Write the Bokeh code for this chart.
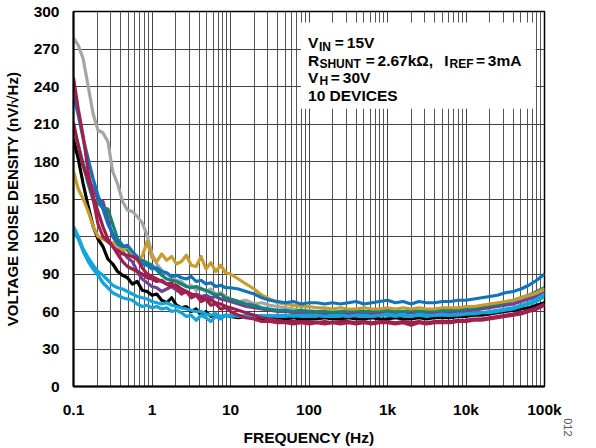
import math
from bokeh.plotting import figure
from bokeh.models import Range1d, FixedTicker, CustomJSTickFormatter, BoxAnnotation, Label, Title
from bokeh.embed import file_html
from bokeh.resources import INLINE

# ---------------- data ----------------
freq = [0.1, 0.115, 0.133, 0.154, 0.178, 0.205, 0.237, 0.274, 0.316, 0.365, 0.422, 0.487,
        0.562, 0.649, 0.75, 0.866, 1.0, 1.15, 1.33, 1.54, 1.78, 2.05, 2.37, 2.74, 3.16, 3.65,
        4.22, 4.87, 5.62, 6.49, 7.5, 8.66,
        10, 12.6, 15.8, 20, 25.1, 31.6, 39.8, 50.1, 63.1, 79.4,
        100, 126, 158, 200, 251, 316, 398, 501, 631, 794,
        1000, 1260, 1580, 2000, 2510, 3160, 3980, 5010, 6310, 7940,
        10000, 12600, 15800, 20000, 25100, 31600, 39800, 50100, 63100, 79400, 100000]

gray = [279, 273, 262, 240, 218, 205, 203, 196, 172, 162, 148, 141, 140, 136, 131, 121,
        106, 98, 93, 90, 87, 85, 84, 80, 81, 77, 79, 76, 78, 74, 75, 72,
        70, 68, 69, 66, 67, 65, 64, 63, 62, 61,
        61, 60, 61, 60, 60, 61, 60, 59, 60, 61,
        60, 61, 60, 60, 61, 60, 60, 61, 61, 61,
        62, 62, 63, 64, 65, 66, 67, 69, 71, 73, 76]
blue = [233, 217, 198, 182, 166, 153, 142, 130, 122, 114, 112, 113, 108, 104, 98, 97,
        94, 95, 92, 91, 88, 89, 87, 86, 88, 84, 85, 82, 83, 80, 81, 79,
        79, 78, 76, 74, 71, 69, 68, 67, 68, 66,
        67, 67, 66, 67, 66, 67, 68, 66, 67, 68,
        69, 67, 68, 66, 68, 67, 67, 68, 68, 69,
        69, 70, 71, 72, 73, 75, 76, 78, 81, 85, 90]
gold = [172, 158, 150, 140, 128, 120, 118, 116, 115, 113, 109, 112, 106, 101, 104, 116,
        103, 100, 106, 101, 104, 98, 100, 105, 97, 96, 104, 94, 99, 92, 97, 91,
        90, 86, 82, 78, 73, 70, 67, 66, 65, 64,
        64, 63, 63, 62, 63, 62, 62, 63, 62, 62,
        63, 62, 63, 62, 63, 62, 62, 63, 63, 63,
        64, 64, 65, 66, 67, 68, 69, 71, 73, 75, 78]
teal = [207, 193, 178, 162, 149, 147, 143, 142, 130, 118, 113, 109, 105, 103, 101, 99,
        97, 93, 89, 86, 85, 84, 82, 80, 79, 80, 78, 77, 75, 73, 74, 71,
        70, 68, 66, 65, 63, 62, 61, 61, 60, 61,
        60, 60, 60, 59, 60, 60, 61, 60, 60, 61,
        61, 60, 60, 61, 60, 60, 61, 61, 61, 62,
        62, 63, 64, 65, 66, 67, 69, 71, 73, 76, 79]
purple = [192, 185, 177, 167, 158, 150, 148, 134, 120, 114, 108, 103, 100, 92, 86, 83,
          80, 79, 76, 78, 80, 77, 75, 76, 73, 74, 72, 73, 71, 72, 70, 69,
          68, 66, 64, 63, 62, 61, 60, 60, 59, 59,
          59, 59, 58, 59, 59, 58, 59, 59, 58, 59,
          59, 59, 58, 59, 59, 58, 59, 59, 59, 60,
          60, 61, 62, 63, 64, 65, 66, 68, 70, 72, 75]
black = [198, 182, 162, 144, 128, 118, 112, 102, 98, 92, 89, 87, 82, 84, 77, 76,
         73, 74, 69, 67, 71, 65, 63, 64, 60, 62, 57, 60, 56, 58, 55, 57,
         56, 55, 56, 55, 54, 55, 54, 54, 55, 54,
         54, 54, 55, 54, 54, 55, 54, 54, 55, 54,
         54, 55, 54, 54, 55, 54, 55, 55, 55, 56,
         56, 57, 57, 58, 59, 60, 61, 62, 63, 65, 67]
maroon1 = [247, 222, 200, 172, 150, 130, 120, 116, 112, 109, 106, 105, 104, 102, 95, 90,
           88, 86, 84, 82, 83, 79, 74, 76, 71, 73, 68, 70, 65, 66, 62, 63,
           60, 57, 55, 54, 52, 52, 51, 51, 50, 51,
           50, 51, 50, 51, 50, 51, 50, 51, 50, 51,
           51, 50, 51, 49, 51, 50, 51, 51, 51, 52,
           52, 53, 53, 54, 55, 56, 57, 58, 60, 62, 65]
maroon2 = [211, 193, 176, 165, 152, 140, 128, 118, 112, 106, 100, 96, 94, 92, 90, 87,
           86, 84, 85, 82, 80, 81, 78, 76, 74, 73, 71, 70, 69, 67, 66, 64,
           63, 61, 59, 57, 55, 54, 53, 52, 52, 52,
           52, 51, 52, 51, 52, 52, 51, 52, 51, 52,
           52, 51, 52, 51, 52, 51, 52, 52, 52, 53,
           53, 54, 54, 55, 56, 57, 58, 59, 61, 63, 66]
cyan1 = [128, 120, 110, 103, 97, 92, 89, 85, 81, 79, 78, 76, 74, 72, 71, 70,
         68, 67, 66, 67, 65, 64, 63, 62, 61, 60, 60, 58, 57, 58, 56, 57,
         57, 56, 57, 56, 57, 56, 57, 57, 56, 57,
         57, 57, 56, 57, 57, 56, 57, 57, 56, 57,
         58, 57, 58, 56, 58, 57, 57, 58, 57, 58,
         58, 59, 59, 60, 61, 62, 63, 65, 67, 70, 74]
cyan2 = [124, 118, 108, 100, 94, 89, 83, 79, 75, 73, 71, 70, 69, 66, 64, 65,
         63, 64, 62, 63, 60, 61, 59, 56, 57, 53, 57, 55, 52, 56, 54, 57,
         56, 57, 55, 57, 56, 57, 56, 56, 57, 56,
         56, 57, 56, 56, 57, 56, 57, 56, 56, 57,
         57, 56, 57, 56, 57, 56, 57, 57, 57, 57,
         58, 58, 59, 59, 60, 61, 62, 64, 66, 68, 72]

series = [(gray, "#a5a5a5"), (purple, "#74408f"), (black, "#000000"), (cyan2, "#17a2d8"),
          (cyan1, "#13a6dc"), (teal, "#138577"), (gold, "#c69c2e"), (blue, "#1174bb"),
          (maroon2, "#9a1e4c"), (maroon1, "#a21f4e")]

x_ticks = [0.1, 1, 10, 100, 1000, 10000, 100000]
y_ticks = [0, 30, 60, 90, 120, 150, 180, 210, 240, 270, 300]

# ---------------- figure ----------------
FONT = "Liberation Sans"
p = figure(width=596, height=448, x_axis_type="log",
           x_range=Range1d(0.1, 100000), y_range=Range1d(0, 300),
           output_backend="svg", toolbar_location=None,
           min_border_left=70, min_border_right=52, min_border_top=11, min_border_bottom=59)
p.background_fill_color = "white"
p.border_fill_color = "white"
p.outline_line_color = "black"
p.outline_line_width = 1.5

minor = [m * 10 ** d for d in range(-1, 5) for m in range(2, 10)]
p.xaxis.ticker = FixedTicker(ticks=x_ticks, minor_ticks=minor)
p.xaxis.formatter = CustomJSTickFormatter(code="""
if (tick >= 1000) { return Math.round(tick/1000) + 'k'; }
if (tick < 1) { return tick.toFixed(1); }
return Math.round(tick).toString();
""")
p.yaxis.ticker = FixedTicker(ticks=y_ticks)

for ax in (p.xaxis, p.yaxis):
    ax.major_tick_line_color = None
    ax.minor_tick_line_color = None
    ax.axis_line_color = "black"
    ax.axis_line_width = 2
    ax.major_label_text_font = FONT
    ax.major_label_text_font_style = "bold"
    ax.major_label_text_font_size = "15.5px"
    ax.major_label_text_color = "black"
    ax.major_label_standoff = 8
    ax.axis_label_text_font = FONT
    ax.axis_label_text_font_style = "bold"
    ax.axis_label_text_font_size = "15.5px"
    ax.axis_label_text_color = "black"
    ax.axis_label_standoff = 8

p.xaxis.axis_label = "FREQUENCY (Hz)"
p.yaxis.axis_label = "VOLTAGE NOISE DENSITY (nV/\u221aHz)"
p.yaxis.axis_label_text_font_size = "15px"
p.yaxis.axis_label_standoff = 10

p.xgrid.grid_line_color = "#444444"
p.xgrid.minor_grid_line_color = "#555555"
p.xgrid.grid_line_width = 1
p.xgrid.minor_grid_line_width = 1
p.ygrid.grid_line_color = "#444444"
p.ygrid.grid_line_width = 1

for vals, col in series:
    p.line(freq, vals, line_color=col, line_width=3.2, line_join="round")

# ---------------- annotation box ----------------
def px2f(x):
    return 10 ** ((x - 70) / 79.0 - 1)

def px2v(y):
    return (389 - y) / 1.26

p.add_layout(BoxAnnotation(left=px2f(299), right=px2f(535), top=px2v(22), bottom=px2v(109),
                           fill_color="white", fill_alpha=1.0, line_color=None))

BIG, SUB = "15.5px", "12px"
pieces = [
    ("V", 306, 42.7, BIG), ("IN", 317, 46.3, SUB), ("=", 333, 42.7, BIG), ("15V", 345, 42.7, BIG),
    ("R", 306, 60.3, BIG), ("SHUNT", 317.5, 63.8, SUB), ("=", 364, 60.3, BIG),
    ("2.67k\u03a9,", 376, 60.3, BIG), ("I", 443, 60.3, BIG), ("REF", 448.5, 63.8, SUB),
    ("=", 475, 60.3, BIG), ("3mA", 487, 60.3, BIG),
    ("V", 306, 77.7, BIG), ("H", 317.5, 81.2, SUB), ("=", 329, 77.7, BIG), ("30V", 341, 77.7, BIG),
    ("10 DEVICES", 306, 96, BIG),
]
for txt, x, y, sz in pieces:
    p.add_layout(Label(x=px2f(x), y=px2v(y), text=txt, text_font=FONT, text_font_style="bold",
                       text_font_size=sz, text_color="black", text_align="left",
                       text_baseline="alphabetic"))

p.add_layout(Title(text="012", text_font=FONT, text_font_size="11px", text_font_style="normal",
                   text_color="#555555", align="right", standoff=38, offset=-50), "right")

open("out.html", "w").write(file_html(p, INLINE))
